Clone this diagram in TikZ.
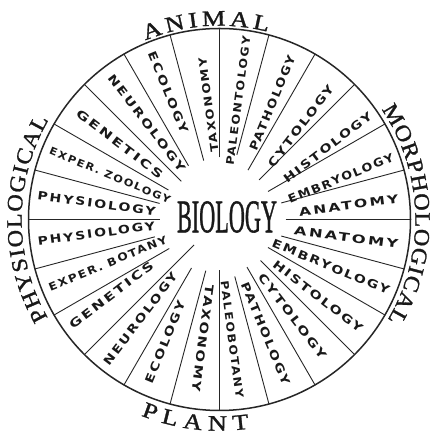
\documentclass[tikz,border=0pt]{standalone}
\usepackage{fontspec}
\setmainfont{Liberation Serif}
\newfontfamily\arcfont[FakeBold=1.2]{Liberation Serif}
\newfontfamily\labfont[LetterSpace=14]{DejaVu Sans Bold}
\usetikzlibrary{calc}
% place a word letter by letter along an arc round (C)
% #1 name prefix, #2 radius, #3 start edge angle, #4 direction (+1 ccw, -1 cw),
% #5 em in px, #6 gap in px, #7 horizontal scale, #8 list letter/width
\newcommand\arcword[8]{%
  \xdef\arcpos{0}%
  \foreach \lch/\lw [count=\i] in {#8} {%
    \pgfmathsetmacro\ang{#3 + #4*(\arcpos + \lw*#5/2)/(#2)*180/pi}%
    \pgfmathsetmacro\rt{\ang + 90*#4}%
    \node[arclet, rotate=\rt] (#1\i) at ($(C)+(\ang:#2)$) {\scalebox{#7}[1]{\lch}};%
    \pgfmathsetmacro\newpos{\arcpos + \lw*#5 + #6}%
    \xdef\arcpos{\newpos}%
  }%
}
\begin{document}
\begin{tikzpicture}[x=1pt,y=1pt,
  spoke/.style={line width=0.9pt, draw=black!85},
  rim/.style={line width=1.5pt, draw=black!85},
  seclab/.style={inner sep=0pt, text=black!90},
  arclet/.style={inner sep=0pt, text=black!90, font=\arcfont\fontsize{22}{22}\selectfont},
  centrelab/.style={inner sep=0pt, text=black!90, font=\arcfont}]
\useasboundingbox[fill=white] (0,0) rectangle (436,435);
\coordinate (C) at (219.5,215.5);
\draw[rim] (C) circle (191);
% spokes
\foreach \a/\r [count=\k] in {0/66,15/64,30/56,45/56,60/57,75/67,90/62,105/61,120/62,135/54,150/59,165/62,180/60,195/67,210/58,225/36,240/56,255/53,270/51,285/59,300/55,315/58,330/56,345/64} {
  \coordinate (si\k) at ($(C)+(\a:\r)$);
  \coordinate (so\k) at ($(C)+(\a:191)$);
  \draw[spoke] (si\k) -- (so\k);
}
% sector labels
\foreach \p/\r/\rot/\w/\h/\t [count=\n] in {
  6.2/130/7.5/100/8.5/ANATOMY,
  18.7/128/22.5/113/8.5/EMBRYOLOGY,
  33.7/130/37.5/108/8.5/HISTOLOGY,
  49/124/52.5/100/8.5/CYTOLOGY,
  65.6/128/67.5/102/8.5/PATHOLOGY,
  81/120/82.5/130/8/PALEONTOLOGY,
  95.5/115/97.5/95/8/TAXONOMY,
  112/137/-67.5/87/8.5/ECOLOGY,
  127/121/-52.5/119/8.5/NEUROLOGY,
  143/125/-37.5/106/8.5/GENETICS,
  158/118/-22.5/130/7.5/EXPER. ZOOLOGY,
  172.6/124/-7.5/119/8.5/PHYSIOLOGY,
  186.5/124/7.5/118/8.5/PHYSIOLOGY,
  201.5/120/22.5/127/8/EXPER. BOTANY,
  215/132/37.5/103/8.5/GENETICS,
  231.4/127/52.5/113/8.5/NEUROLOGY,
  246/134/67.5/88/8.5/ECOLOGY,
  262/120/-97.5/108/8.5/TAXONOMY,
  276/121/-82.5/118/8/PALEOBOTANY,
  292/123/-67.5/110/8.5/PATHOLOGY,
  307/121/-52.5/104/8.5/CYTOLOGY,
  322/125/-37.5/110/8.5/HISTOLOGY,
  337/121/-22.5/126/8.5/EMBRYOLOGY,
  352/128/-7.5/105/8.5/ANATOMY} {
  \node[seclab, rotate=\rot] (l\n) at ($(C)+(\p:\r)$) {\resizebox{\w pt}{\h pt}{\labfont \t}};
}
% centre
\node[centrelab] (bio) at (227,218) {\resizebox{100pt}{31pt}{BIOLOGY}};
% outer words
\arcword{an}{201}{112.4}{-1}{26.4}{4.7}{1.2}{A/.722,N/.722,I/.333,M/.889,A/.722,L/.611}
\arcword{mo}{203}{34.1}{-1}{24.2}{1.7}{1.1}{M/.889,O/.722,R/.667,P/.556,H/.722,O/.722,L/.611,O/.722,G/.722,I/.333,C/.667,A/.722,L/.611}
\arcword{ph}{205}{209.8}{-1}{24.2}{1.76}{1.1}{P/.556,H/.722,Y/.722,S/.556,I/.333,O/.722,L/.611,O/.722,G/.722,I/.333,C/.667,A/.722,L/.611}
\arcword{pl}{204}{248.1}{1}{26.4}{5.5}{1.2}{P/.556,L/.611,A/.722,N/.722,T/.611}
\end{tikzpicture}
\end{document}
